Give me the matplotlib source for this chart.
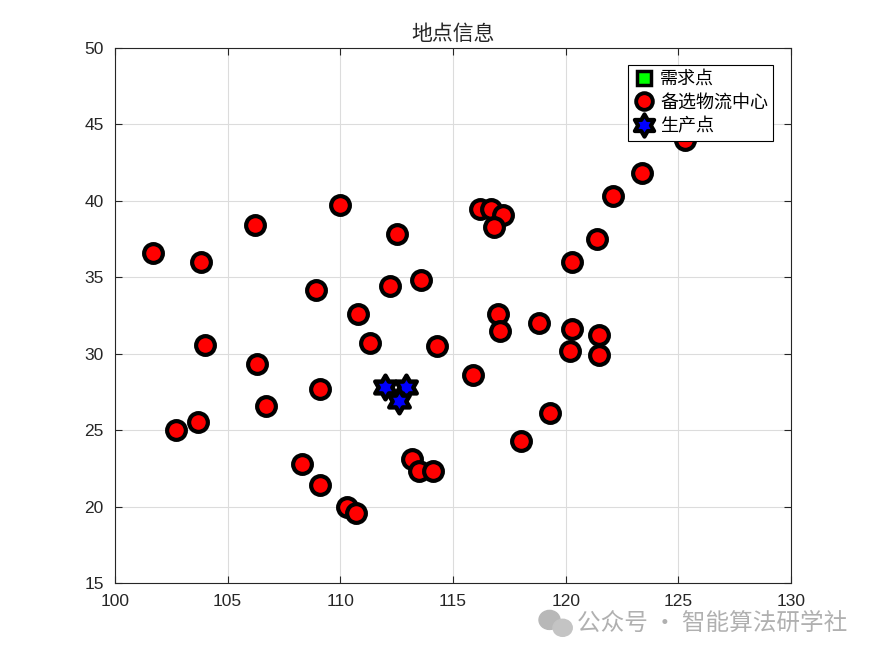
import numpy as np
import matplotlib.pyplot as plt
from matplotlib.lines import Line2D
from matplotlib.patches import Ellipse
from matplotlib.path import Path

plt.rcParams['font.family'] = ['Noto Sans CJK SC', 'DejaVu Sans']

# candidate logistics centres (备选物流中心)
cand_x = [101.7, 103.8, 104.0, 102.7, 103.7, 106.2, 106.3, 106.7, 108.3, 109.1,
          109.1, 108.9, 110.0, 110.8, 111.3, 110.3, 110.7, 112.5, 112.2, 113.6,
          114.3, 113.2, 113.5, 114.1, 115.9, 116.2, 116.7, 117.2, 116.8, 117.0,
          117.1, 118.8, 118.0, 119.3, 120.3, 120.2, 120.3, 121.4, 121.5, 121.5,
          122.1, 123.4, 125.3]
cand_y = [36.6, 36.0, 30.6, 25.0, 25.5, 38.4, 29.3, 26.6, 22.8, 21.4,
          27.7, 34.2, 39.7, 32.6, 30.7, 20.0, 19.6, 37.8, 34.4, 34.8,
          30.5, 23.1, 22.3, 22.3, 28.6, 39.5, 39.5, 39.1, 38.3, 32.6,
          31.5, 32.0, 24.3, 26.1, 31.6, 30.2, 36.0, 37.5, 31.2, 29.9,
          40.3, 41.8, 44.0]

# demand points (需求点) - hidden under the candidate markers
dem_x = cand_x
dem_y = cand_y

# production points (生产点)
prod_x = [112.0, 112.9, 112.6]
prod_y = [27.8, 27.8, 26.9]

# hexagram marker like MATLAB's 'h'
ang = np.pi / 2 + np.arange(12) * np.pi / 6
rad = np.where(np.arange(12) % 2 == 0, 1.0, 1 / np.sqrt(3))
verts = np.column_stack([rad * np.cos(ang), rad * np.sin(ang)])
verts = np.vstack([verts, verts[:1]])
hexagram = Path(verts, closed=True)

fig = plt.figure(figsize=(8.75, 6.56), dpi=100)
ax = fig.add_axes([0.1314, 0.1113, 0.7726, 0.8155])

dem_style = dict(ls='none', marker='s', mfc='#00ff00', mec='k')
cand_style = dict(ls='none', marker='o', mfc='red', mec='k')
prod_style = dict(ls='none', marker=hexagram, mfc='blue', mec='k')

ax.plot(dem_x, dem_y, ms=7, mew=2, zorder=2, **dem_style)
ax.plot(cand_x, cand_y, ms=13.5, mew=3, zorder=3, **cand_style)
ax.plot(prod_x, prod_y, ms=17, mew=3.2, zorder=4, **prod_style)

ax.set_xlim(100, 130)
ax.set_ylim(15, 50)
ax.set_xticks(range(100, 131, 5))
ax.set_yticks(range(15, 51, 5))
ax.grid(True, color='#dcdcdc', lw=0.8)
ax.set_axisbelow(True)
ax.tick_params(direction='in', top=True, right=True, labelsize=12.5, colors='#262626',
               length=5, pad=8)
for lab in ax.get_xticklabels() + ax.get_yticklabels():
    lab.set_family(['Liberation Sans', 'DejaVu Sans'])
for s in ax.spines.values():
    s.set_color('#262626')
    s.set_linewidth(0.8)

ax.set_title('地点信息', fontsize=15, color='#262626', pad=6)

handles = [Line2D([], [], ms=10, mew=2.5, **dem_style),
           Line2D([], [], ms=12, mew=2.8, **cand_style),
           Line2D([], [], ms=16, mew=3, **prod_style)]
leg = ax.legend(handles, ['需求点', '备选物流中心', '生产点'], loc='upper right',
                bbox_to_anchor=(0.974, 0.969), fontsize=13,
                fancybox=False, edgecolor='k', framealpha=1, borderpad=0.3,
                labelspacing=0.32, handlelength=1.1, handletextpad=0.35,
                borderaxespad=0)
leg.get_frame().set_linewidth(0.8)

# watermark
fig.text(0.659, 0.05, '公众号 · 智能算法研学社', fontsize=17, color='#b0b0b0',
         ha='left', va='center')
fig.patches.append(Ellipse((0.628, 0.055), 0.024, 0.029, color='#b8b8b8',
                           transform=fig.transFigure, figure=fig))
fig.patches.append(Ellipse((0.643, 0.043), 0.022, 0.026, color='#c4c4c4',
                           transform=fig.transFigure, figure=fig))

fig.savefig('out.png', dpi=100)
